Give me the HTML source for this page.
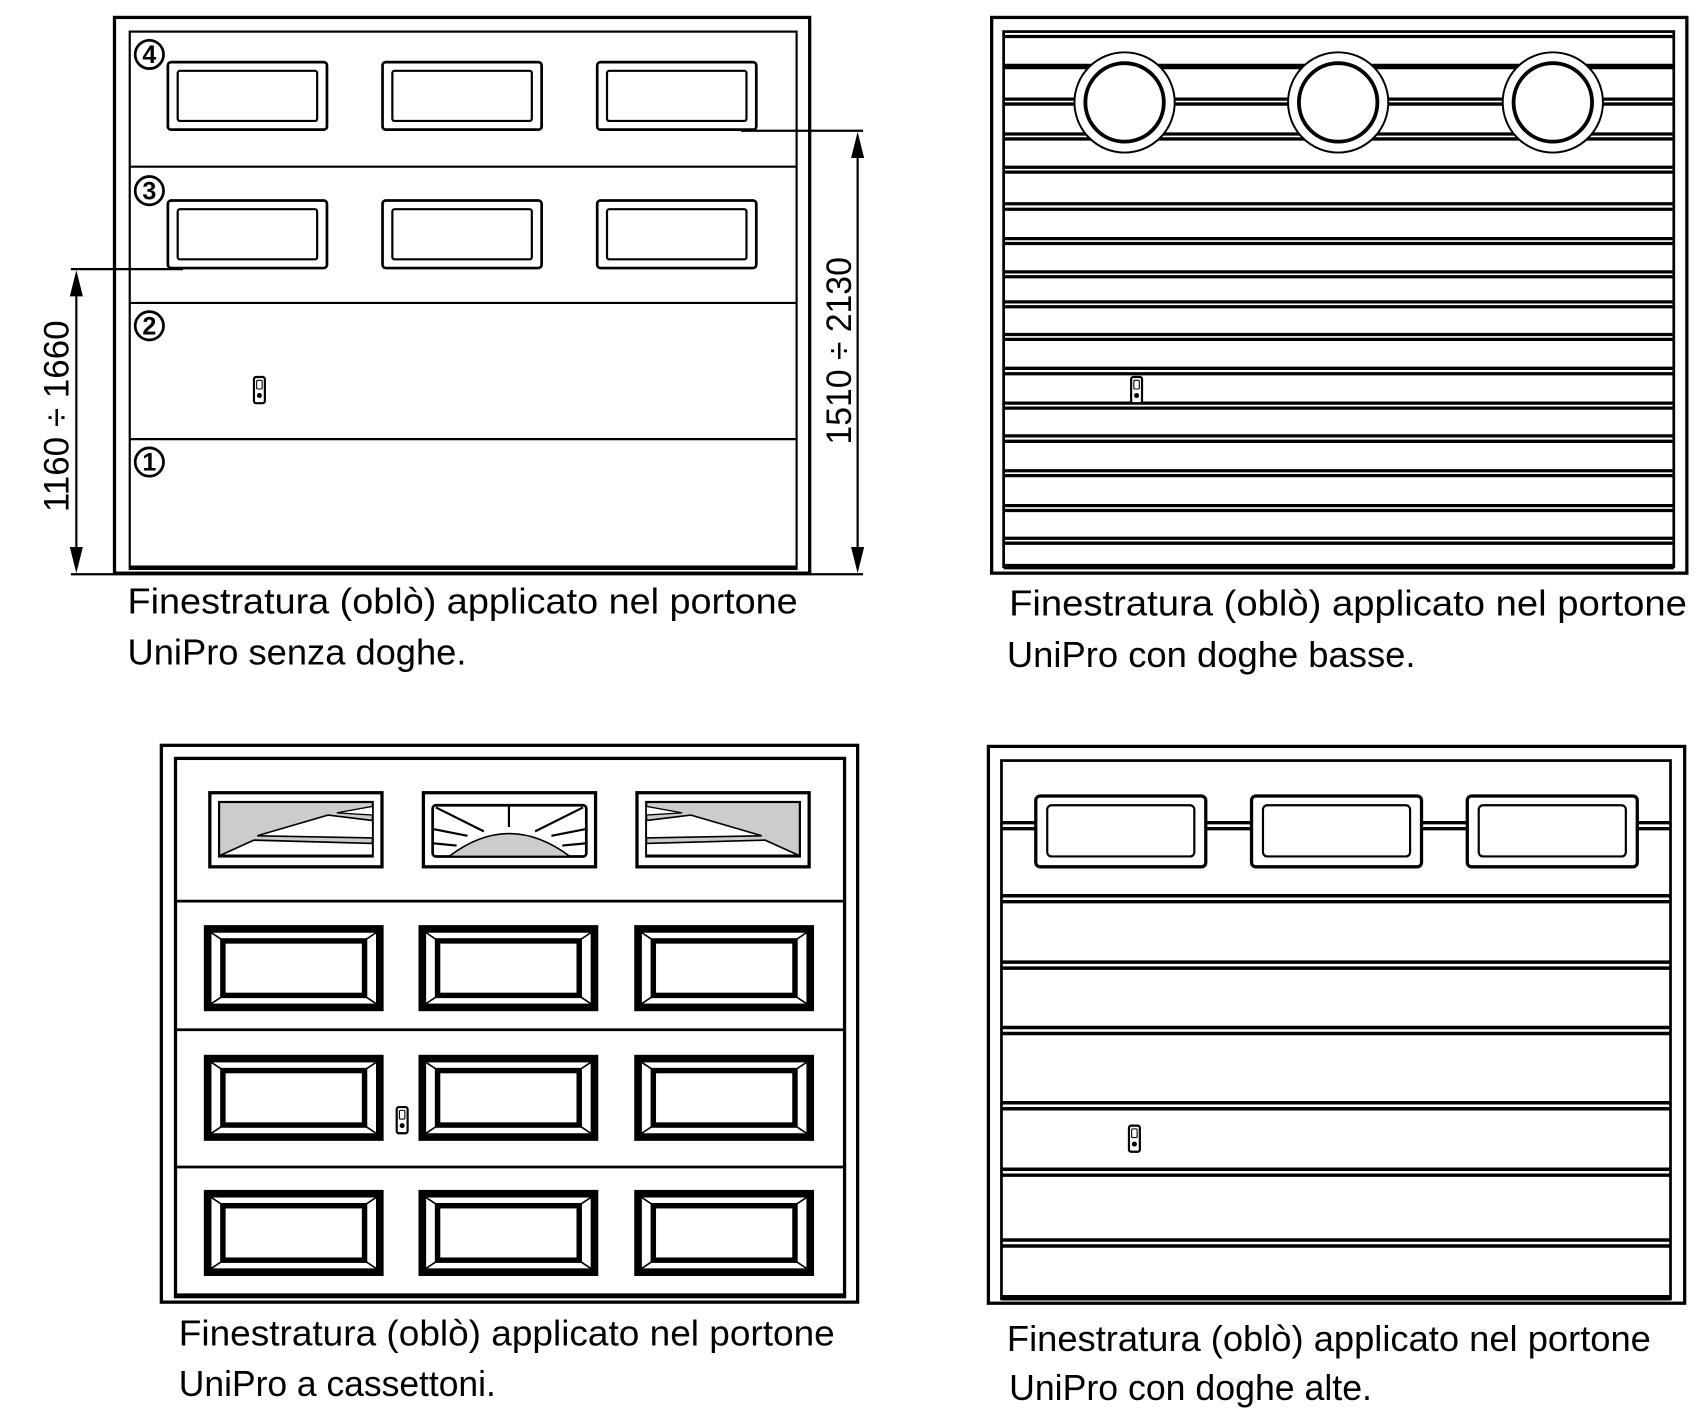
<!DOCTYPE html>
<html><head><meta charset="utf-8"><style>
html,body{margin:0;padding:0;background:#fff;}
svg{display:block;}
text{font-family:"Liberation Sans Narrow","Liberation Sans",sans-serif;fill:#000;}
</style></head><body>
<svg width="1700" height="1422" viewBox="0 0 1560 1305" xmlns="http://www.w3.org/2000/svg">
<defs>
<g id="w1" fill="#fff" stroke="#000">
<rect x="1" y="1" width="146" height="62" rx="3" stroke-width="2.5"/>
<rect x="10" y="9" width="128" height="46" rx="2" stroke-width="2"/>
</g>
<g id="w4" fill="#fff" stroke="#000">
<rect x="1.5" y="1.5" width="156" height="65" rx="4" stroke-width="3"/>
<rect x="12" y="10" width="135" height="47" rx="4" stroke-width="2"/>
</g>
<g id="cas" fill="#fff" stroke="#000">
<rect x="3.5" y="3.5" width="158" height="72" stroke-width="7"/>
<rect x="17.5" y="14.5" width="130" height="50" stroke-width="5"/>
<g stroke-width="1.5"><line x1="7" y1="7" x2="16" y2="13"/><line x1="158" y1="7" x2="149" y2="13"/><line x1="7" y1="72" x2="16" y2="66"/><line x1="158" y1="72" x2="149" y2="66"/></g>
</g>
<g id="handle" fill="#fff" stroke="#000">
<rect x="0" y="0" width="10" height="24" rx="2" stroke-width="2"/>
<rect x="2.5" y="3" width="5" height="8" rx="1" stroke-width="1"/>
<circle cx="5" cy="17" r="2.3" fill="#000" stroke="none"/>
</g>
<g id="sideL">
<rect x="10" y="10" width="141" height="50" fill="#ccc" stroke="#000" stroke-width="2"/>
<polygon points="11,59 42,45 151,48 151,59" fill="#fff" stroke="#000" stroke-width="1.5"/>
<polygon points="45,41 110,22 151,27 151,43" fill="#fff" stroke="#000" stroke-width="1.5"/>
<polygon points="118,20 151,14 151,22" fill="#fff" stroke="#000" stroke-width="1.2"/>
</g>
</defs>

<!-- PANEL 1 -->
<g fill="none" stroke="#000">
<rect x="105" y="16" width="638" height="510" stroke-width="3"/>
<rect x="119" y="29" width="612" height="493" stroke-width="2"/>
<line x1="119" y1="153" x2="731" y2="153" stroke-width="2"/>
<line x1="119" y1="278" x2="731" y2="278" stroke-width="2"/>
<line x1="119" y1="403" x2="731" y2="403" stroke-width="2"/>
<line x1="119" y1="521" x2="731" y2="521" stroke-width="4"/>
</g>
<use href="#w1" x="153" y="56"/><use href="#w1" x="350" y="56"/><use href="#w1" x="547" y="56"/>
<use href="#w1" x="153" y="183"/><use href="#w1" x="350" y="183"/><use href="#w1" x="547" y="183"/>
<g fill="#fff" stroke="#000" stroke-width="2.5">
<circle cx="137" cy="50" r="13"/><circle cx="137" cy="175" r="13"/><circle cx="137" cy="299" r="13"/><circle cx="137" cy="424" r="13"/>
</g>
<g font-size="23" font-weight="bold" text-anchor="middle" style="font-family:'Liberation Sans',sans-serif">
<text x="137" y="58">4</text><text x="137" y="183">3</text><text x="137" y="307">2</text><text x="137" y="432">1</text>
</g>
<use href="#handle" x="233" y="346"/>
<g stroke="#000" stroke-width="2">
<line x1="65" y1="247" x2="168" y2="247"/>
<line x1="70" y1="262" x2="70" y2="512"/>
<line x1="65" y1="527" x2="792" y2="527"/>
<line x1="680" y1="120" x2="792" y2="120"/>
<line x1="787" y1="135" x2="787" y2="512"/>
</g>
<g fill="#000">
<polygon points="70,248 64,272 76,272"/><polygon points="70,526 64,502 76,502"/>
<polygon points="787,121 781,145 793,145"/><polygon points="787,526 781,502 793,502"/>
</g>
<text transform="translate(63,382) rotate(-90)" font-size="32" text-anchor="middle" textLength="176" lengthAdjust="spacingAndGlyphs" style="font-family:'Liberation Sans',sans-serif">1160 ÷ 1660</text>
<text transform="translate(781,322) rotate(-90)" font-size="32" text-anchor="middle" textLength="172" lengthAdjust="spacingAndGlyphs" style="font-family:'Liberation Sans',sans-serif">1510 ÷ 2130</text>
<text x="117" y="563" font-size="33" textLength="615" lengthAdjust="spacingAndGlyphs">Finestratura (oblò) applicato nel portone</text>
<text x="117" y="610" font-size="33" textLength="311" lengthAdjust="spacingAndGlyphs">UniPro senza doghe.</text>

<!-- PANEL 2 -->
<g fill="none" stroke="#000">
<rect x="910" y="16" width="638" height="510" stroke-width="3"/>
<rect x="921" y="29" width="615" height="491" stroke-width="2.5"/>
<line x1="921" y1="61" x2="1536" y2="61" stroke-width="5"/>
<line x1="921" y1="520" x2="1536" y2="520" stroke-width="5"/>
<g stroke-width="3">
<line x1="921" y1="33.5" x2="1536" y2="33.5"/>
<line x1="921" y1="91" x2="1536" y2="91"/><line x1="921" y1="95.5" x2="1536" y2="95.5"/>
<line x1="921" y1="123" x2="1536" y2="123"/><line x1="921" y1="127.5" x2="1536" y2="127.5"/>
<line x1="921" y1="153.5" x2="1536" y2="153.5"/><line x1="921" y1="158" x2="1536" y2="158"/>
<line x1="921" y1="187" x2="1536" y2="187"/><line x1="921" y1="192" x2="1536" y2="192"/>
<line x1="921" y1="219" x2="1536" y2="219"/><line x1="921" y1="223.5" x2="1536" y2="223.5"/>
<line x1="921" y1="249.5" x2="1536" y2="249.5"/><line x1="921" y1="254" x2="1536" y2="254"/>
<line x1="921" y1="277" x2="1536" y2="277"/><line x1="921" y1="281.5" x2="1536" y2="281.5"/>
<line x1="921" y1="307" x2="1536" y2="307"/><line x1="921" y1="311.5" x2="1536" y2="311.5"/>
<line x1="921" y1="338" x2="1536" y2="338"/><line x1="921" y1="343" x2="1536" y2="343"/>
<line x1="921" y1="370" x2="1536" y2="370"/><line x1="921" y1="374.5" x2="1536" y2="374.5"/>
<line x1="921" y1="400" x2="1536" y2="400"/><line x1="921" y1="405" x2="1536" y2="405"/>
<line x1="921" y1="432" x2="1536" y2="432"/><line x1="921" y1="436.5" x2="1536" y2="436.5"/>
<line x1="921" y1="464" x2="1536" y2="464"/><line x1="921" y1="468.5" x2="1536" y2="468.5"/>
<line x1="921" y1="494" x2="1536" y2="494"/><line x1="921" y1="498.5" x2="1536" y2="498.5"/>
</g>
</g>
<g fill="#fff" stroke="#000">
<circle cx="1032" cy="94" r="46" stroke-width="1.8"/><circle cx="1032" cy="94" r="36" stroke-width="3.5"/>
<circle cx="1228" cy="94" r="46" stroke-width="1.8"/><circle cx="1228" cy="94" r="36" stroke-width="3.5"/>
<circle cx="1425" cy="94" r="46" stroke-width="1.8"/><circle cx="1425" cy="94" r="36" stroke-width="3.5"/>
</g>
<use href="#handle" x="1038" y="346"/>
<text x="926" y="565" font-size="33" textLength="622" lengthAdjust="spacingAndGlyphs">Finestratura (oblò) applicato nel  portone</text>
<text x="924" y="612" font-size="33" textLength="375" lengthAdjust="spacingAndGlyphs">UniPro con doghe basse.</text>

<!-- PANEL 3 -->
<g fill="none" stroke="#000">
<rect x="148" y="684" width="639" height="511" stroke-width="3"/>
<rect x="161" y="696" width="614" height="494" stroke-width="3"/>
<line x1="161" y1="827" x2="775" y2="827" stroke-width="2.5"/>
<line x1="161" y1="945" x2="775" y2="945" stroke-width="2.5"/>
<line x1="161" y1="1071" x2="775" y2="1071" stroke-width="2.5"/>
<line x1="161" y1="1189" x2="775" y2="1189" stroke-width="4"/>
</g>
<g transform="translate(191,726)">
<rect x="1.5" y="1.5" width="158" height="68" fill="#fff" stroke="#000" stroke-width="3"/>
<use href="#sideL"/>
</g>
<g transform="translate(744,726) scale(-1,1)">
<rect x="1.5" y="1.5" width="158" height="68" fill="#fff" stroke="#000" stroke-width="3"/>
<use href="#sideL"/>
</g>
<g transform="translate(387,726)" stroke="#000">
<rect x="1.5" y="1.5" width="158" height="68" fill="#fff" stroke-width="3"/>
<rect x="10" y="13" width="141" height="47" rx="3" fill="#fff" stroke-width="2.5"/>
<path d="M25,60 Q80,18 136,60 Z" fill="#ccc" stroke-width="1.5"/>
<g stroke-width="2" fill="none">
<line x1="13" y1="15" x2="57" y2="37"/><line x1="148" y1="15" x2="104" y2="37"/>
<line x1="80" y1="14" x2="80" y2="33"/>
<line x1="11" y1="35" x2="42" y2="41"/><line x1="150" y1="35" x2="119" y2="41"/>
<line x1="11" y1="48" x2="32" y2="50"/><line x1="150" y1="48" x2="129" y2="50"/>
</g>
</g>
<use href="#cas" x="187" y="849"/><use href="#cas" x="384" y="849"/><use href="#cas" x="582" y="849"/>
<use href="#cas" x="187" y="968"/><use href="#cas" x="384" y="968"/><use href="#cas" x="582" y="968"/>
<use href="#cas" x="187" y="1092"/><use href="#cas" x="384" y="1092"/><use href="#cas" x="582" y="1092"/>
<use href="#handle" x="364" y="1016"/>
<text x="164" y="1235" font-size="33" textLength="602" lengthAdjust="spacingAndGlyphs">Finestratura (oblò) applicato nel portone</text>
<text x="164" y="1281" font-size="33" textLength="291" lengthAdjust="spacingAndGlyphs">UniPro a cassettoni.</text>

<!-- PANEL 4 -->
<g fill="none" stroke="#000">
<rect x="907" y="685" width="639" height="511" stroke-width="3"/>
<rect x="919" y="698" width="614" height="494" stroke-width="2.5"/>
<line x1="919" y1="1191" x2="1533" y2="1191" stroke-width="5"/>
<g stroke-width="3.2">
<line x1="919" y1="755" x2="1533" y2="755"/><line x1="919" y1="760.5" x2="1533" y2="760.5"/>
<line x1="919" y1="822" x2="1533" y2="822"/><line x1="919" y1="827.5" x2="1533" y2="827.5"/>
<line x1="919" y1="883" x2="1533" y2="883"/><line x1="919" y1="888.5" x2="1533" y2="888.5"/>
<line x1="919" y1="943" x2="1533" y2="943"/><line x1="919" y1="948.5" x2="1533" y2="948.5"/>
<line x1="919" y1="1012" x2="1533" y2="1012"/><line x1="919" y1="1017.5" x2="1533" y2="1017.5"/>
<line x1="919" y1="1073" x2="1533" y2="1073"/><line x1="919" y1="1078.5" x2="1533" y2="1078.5"/>
<line x1="919" y1="1138" x2="1533" y2="1138"/><line x1="919" y1="1143.5" x2="1533" y2="1143.5"/>
</g>
</g>
<use href="#w4" x="949" y="729"/><use href="#w4" x="1147" y="729"/><use href="#w4" x="1345" y="729"/>
<use href="#handle" x="1036" y="1033"/>
<text x="924" y="1240" font-size="33" textLength="591" lengthAdjust="spacingAndGlyphs">Finestratura (oblò) applicato nel portone</text>
<text x="926" y="1285" font-size="33" textLength="333" lengthAdjust="spacingAndGlyphs">UniPro con doghe alte.</text>
</svg>
</body></html>
